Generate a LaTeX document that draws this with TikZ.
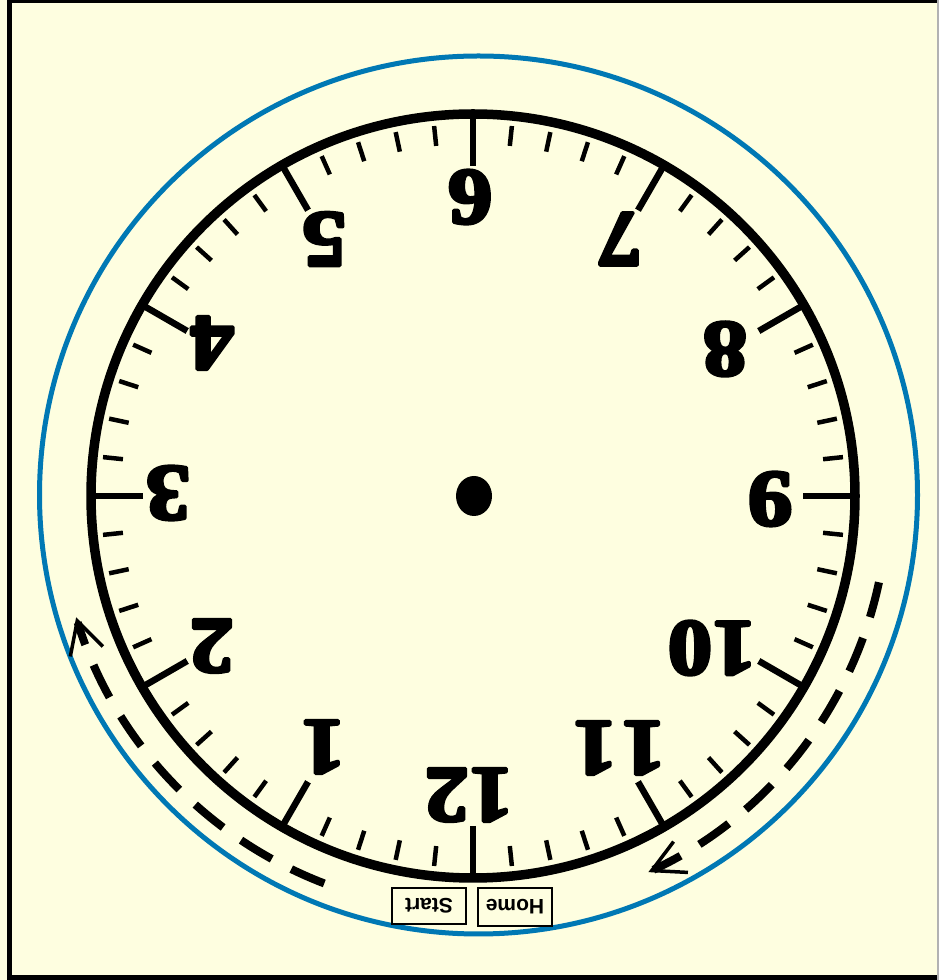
\documentclass[tikz,border=0pt]{standalone}
\usepackage{fontspec}
\usetikzlibrary{arrows.meta}
\newfontfamily\numfont{Liberation Serif}
\newfontfamily\labfont{Liberation Sans}
\definecolor{bg}{HTML}{FEFEE0}
\definecolor{ringblue}{HTML}{0078B4}
\newcommand\heavytext[1]{\special{pdf:literal direct 3.5 w 1 j 2 Tr}#1\special{pdf:literal direct 0 Tr}}
\begin{document}
\begin{tikzpicture}[x=1pt,y=1pt,
  numstyle/.style={font=\numfont\bfseries\fontsize{80}{80}\selectfont, rotate=180, xscale=1.1, inner sep=0pt},
  majortick/.style={line width=6.5pt},
  minortick/.style={line width=4.5pt},
  boxlabel/.style={draw, line width=2pt, rotate=180, font=\labfont\bfseries\fontsize{21}{21}\selectfont, minimum width=74pt, minimum height=36pt, inner sep=0pt},
  dasharrow/.style={line width=8pt, dash pattern=on 36pt off 22pt, -{Straight Barb[length=32pt,width=34pt,line width=3.5pt]}}
]
\useasboundingbox (0,0) rectangle (939,980);
\fill[bg] (0,0) rectangle (939,980);
% frame
\draw[line width=5pt] (9.5,0) -- (9.5,980);
\draw[line width=3pt] (7,978.5) -- (939,978.5);
\draw[line width=5pt] (7,2.5) -- (939,2.5);
\draw[gray!60, line width=1.5pt] (938.2,0) -- (938.2,980);
% centres
\coordinate (C) at (473,484);
\coordinate (B) at (478.5,485);
% blue circle and ring
\draw[ringblue, line width=5pt] (B) circle[radius=439];
\draw[line width=9.5pt] (C) circle[radius=382];
% ticks
\foreach \i in {0,...,59} {
  \pgfmathsetmacro\ang{-90-6*\i}
  \pgfmathtruncatemacro\m{mod(\i,5)}
  \ifnum\m=0
    \draw[majortick, shift={(C)}] (\ang:330) -- (\ang:383);
  \else
    \draw[minortick, shift={(C)}] (\ang:352) -- (\ang:372);
  \fi
}
% numbers
\foreach \h/\px/\py/\t in {6/470/783/6, 5/324/741/5, 4/212/637/4, 3/168/487/3, 2/212/334/2, 1/323/233/1,
  12/469/185/12, 11/619/232/{1\kern4pt1}, 10/712/332/10, 9/770/481/9, 8/725/631/8, 7/620/741/7} {
  \node[numstyle] (n\h) at (\px,\py) {\heavytext{\t}};
}
% centre dot
\fill (474,484) ellipse [x radius=18, y radius=20];
% dashed arrows
\coordinate (la) at ([shift={(C)}]249:415);
\draw[dasharrow] (la) arc[start angle=249, end angle=197, radius=415];
\coordinate (ra) at ([shift={(C)}]-12:415);
\draw[dasharrow] (ra) arc[start angle=-12, end angle=-65, radius=415];
% labels
\node[boxlabel] (start) at (429,74) {Start};
\node[boxlabel, minimum height=38pt] (home) at (515,73) {Home};
\end{tikzpicture}
\end{document}
